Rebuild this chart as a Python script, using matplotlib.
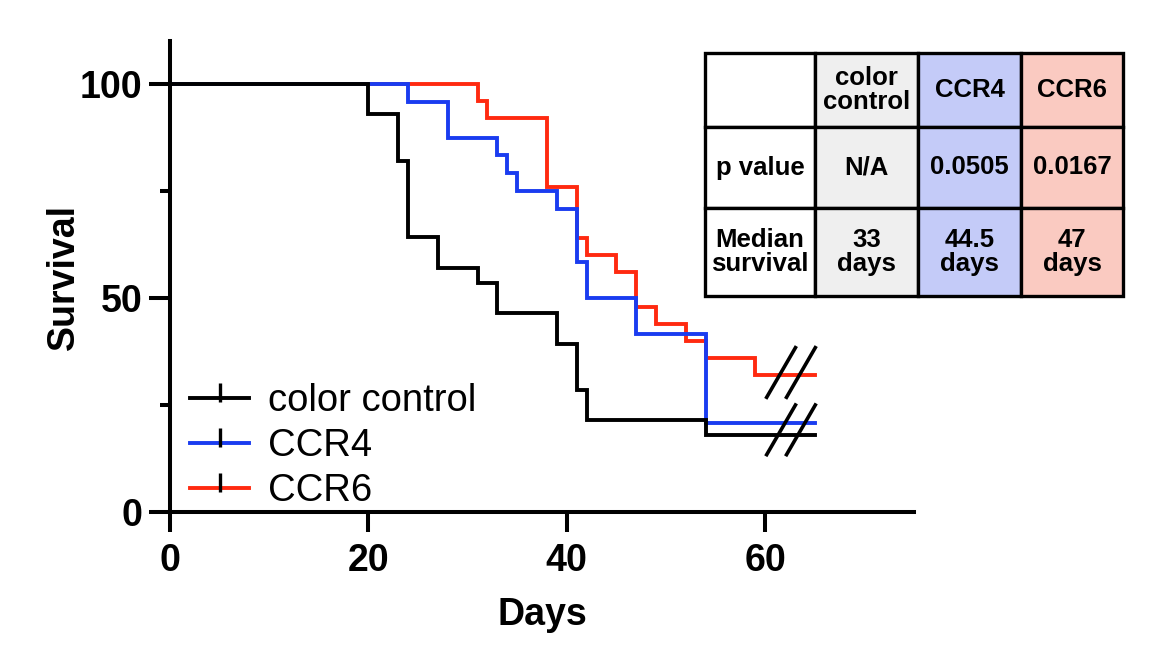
import numpy as np
import matplotlib.pyplot as plt
from matplotlib.lines import Line2D
from matplotlib.patches import Rectangle

plt.rcParams['font.family'] = ['Liberation Sans', 'DejaVu Sans']

# --- Datos (Kaplan-Meier) ---
ctrl_days = [0, 20, 23, 24, 27, 31, 33, 39, 41, 42, 54, 65]
ctrl_surv = [100, 92.9, 82.1, 64.3, 57.1, 53.6, 46.4, 39.3, 28.6, 21.4, 17.9, 17.9]
ccr4_days = [0, 24, 28, 33, 34, 35, 39, 41, 42, 47, 54, 65]
ccr4_surv = [100, 95.8, 87.5, 83.3, 79.2, 75, 70.8, 58.3, 50, 41.7, 20.8, 20.8]
ccr6_days = [0, 31, 32, 38, 41, 42, 45, 47, 49, 52, 54, 59, 65]
ccr6_surv = [100, 96, 92, 76, 64, 60, 56, 48, 44, 40, 36, 32, 32]

labels = ['color control', 'CCR4', 'CCR6']
colors = ['#000000', '#1a3cf0', '#ff2a10']

# cortes de eje (//)
break_x = [61.6, 63.6]
break_y = [32.6, 19.2]

# tabla
col_headers = ['', 'color\ncontrol', 'CCR4', 'CCR6']
row_labels = ['p value', 'Median\nsurvival']
p_values = ['N/A', '0.0505', '0.0167']
medians = ['33\ndays', '44.5\ndays', '47\ndays']
col_colors = ['#ffffff', '#efefef', '#c4cbf8', '#facac1']

W, H = 1164, 668
fig = plt.figure(figsize=(W / 100, H / 100), dpi=100)
ax = fig.add_axes([170 / W, (H - 512) / H, 744 / W, 470.8 / H])

# orden: rojo, azul, negro arriba
for d, s, c in [(ccr6_days, ccr6_surv, colors[2]),
                (ccr4_days, ccr4_surv, colors[1]),
                (ctrl_days, ctrl_surv, colors[0])]:
    ax.step(d, s, where='post', color=c, lw=2.8, solid_joinstyle='miter')

# marcas de corte
for by in break_y:
    for bx in break_x:
        ax.plot([bx - 1.45, bx + 1.45], [by - 5.8, by + 5.8], color='k', lw=2.6,
                clip_on=False, zorder=5)

ax.set_xlim(0, 75)
ax.set_ylim(0, 110)
ax.set_xticks([0, 20, 40, 60])
ax.set_yticks([0, 50, 100])
ax.set_yticks([25, 75], minor=True)
for sp in ['top', 'right']:
    ax.spines[sp].set_visible(False)
for sp in ['left', 'bottom']:
    ax.spines[sp].set_linewidth(2.9)
ax.tick_params(axis='x', length=14.5, width=2.9, pad=7.5, labelsize=27)
ax.tick_params(axis='y', which='major', length=15, width=2.9, pad=5, labelsize=27)
ax.tick_params(axis='y', which='minor', length=7.5, width=2.9)
for lab in ax.get_xticklabels() + ax.get_yticklabels():
    lab.set_fontweight('bold')

ax.set_xlabel('Days', fontsize=27, fontweight='bold', labelpad=13)
ax.set_ylabel('Survival', fontsize=27, fontweight='bold', labelpad=-2)

# leyenda con marca de censura
tick_marker = [(0, -0.25), (0, 1)]
handles = [Line2D([], [], color=c, lw=2.8, marker=tick_marker, markersize=22,
                  markeredgecolor='k', markeredgewidth=2.4) for c in colors]
leg = ax.legend(handles, labels, loc='center left', bbox_to_anchor=(0.027, 0.140),
                frameon=False, fontsize=27.5, handlelength=1.55, handletextpad=0.5,
                labelspacing=0.23, borderpad=0, borderaxespad=0)

# --- Tabla ---
col_w = [110, 103, 103, 102]
row_h = [74, 81, 88]
x0, y0 = 705, 53
tw, th = sum(col_w), sum(row_h)
tax = fig.add_axes([x0 / W, (H - y0 - th) / H, tw / W, th / H])
tax.set_xlim(0, tw)
tax.set_ylim(th, 0)
tax.axis('off')

rows = [col_headers, [row_labels[0]] + p_values, [row_labels[1]] + medians]
ys = np.concatenate([[0], np.cumsum(row_h)])
xs = np.concatenate([[0], np.cumsum(col_w)])
for i, row in enumerate(rows):
    for j, txt in enumerate(row):
        fc = col_colors[j] if j > 0 else '#ffffff'
        tax.add_patch(Rectangle((xs[j], ys[i]), col_w[j], row_h[i], facecolor=fc,
                                edgecolor='k', lw=2.4, clip_on=False))
        tax.text((xs[j] + xs[j + 1]) / 2, (ys[i] + ys[i + 1]) / 2, txt,
                 ha='center', va='center', fontsize=18.5, fontweight='bold',
                 linespacing=1.05)

fig.savefig('out.png', dpi=100)
